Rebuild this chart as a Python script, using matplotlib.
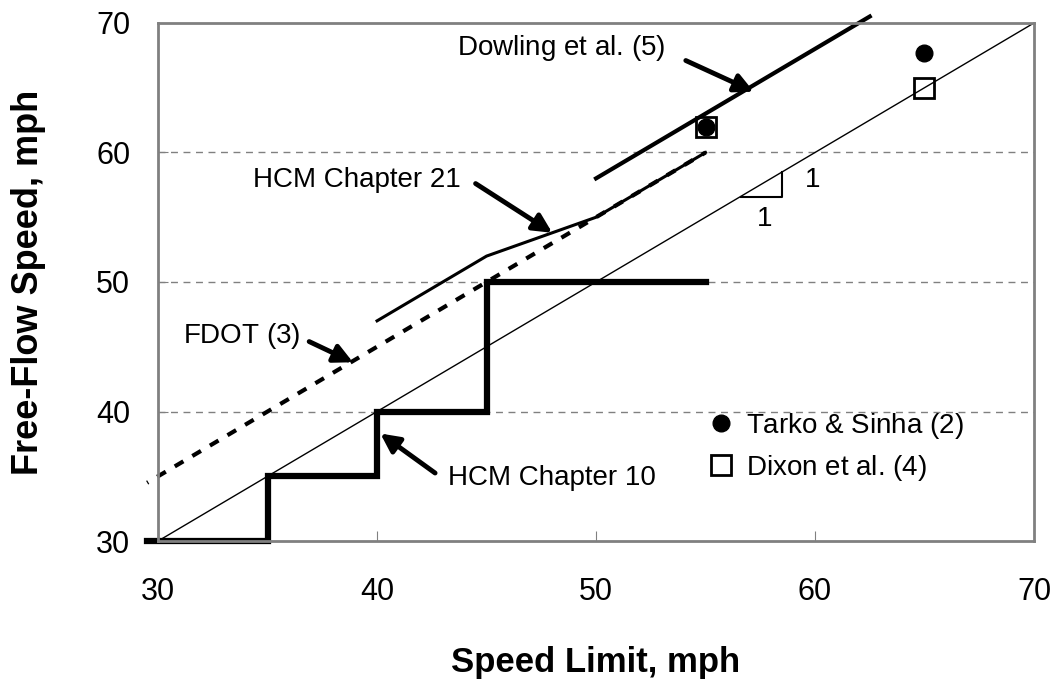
import matplotlib
matplotlib.use('Agg')
import matplotlib.pyplot as plt
from matplotlib.lines import Line2D

plt.rcParams['font.family'] = ['Liberation Sans', 'DejaVu Sans']
plt.rcParams['mathtext.fontset'] = 'custom'
plt.rcParams['mathtext.rm'] = 'Liberation Sans'
plt.rcParams['mathtext.it'] = 'Liberation Sans:italic'

# data (mph)
ref_x = [30, 70]
ref_y = [30, 70]
ch10_x = [29.5, 35, 35, 40, 40, 45, 45, 55]
ch10_y = [30, 30, 35, 35, 40, 40, 50, 50]
ch21_x = [40, 45, 50, 55]
ch21_y = [47, 52, 55, 60]
fdot_x = [29.5, 55]
fdot_y = [34.5, 60]
dowling_x = [50, 62.5]
dowling_y = [58, 70.5]
tarko_x = [55, 65]
tarko_y = [62, 67.7]
dixon_x = [55, 65]
dixon_y = [62, 65]

fig = plt.figure(figsize=(10.54, 6.8), dpi=100)
ax = fig.add_axes([0.150, 0.2044, 0.831, 0.7618])

for gy in [40, 50, 60]:
    ax.axhline(gy, color='#808080', lw=1.0, ls=(0, (5, 4)), zorder=0)

ax.plot(ref_x, ref_y, color='black', lw=1.0)
ax.plot(ch10_x, ch10_y, color='black', lw=4.5, clip_on=False, solid_joinstyle='miter')
ax.plot(fdot_x, fdot_y, color='black', lw=3, ls=(2.1, (2.4, 2.5)), clip_on=False)
ax.plot(ch21_x, ch21_y, color='black', lw=2.2)
ax.plot(dowling_x, dowling_y, color='black', lw=3, clip_on=False)
ax.plot(tarko_x, tarko_y, 'o', color='black', ms=12, zorder=4)
ax.plot(dixon_x, dixon_y, 's', mfc='none', mec='black', mew=2, ms=14, zorder=5)

# slope triangle
ax.plot([56.6, 58.5, 58.5], [56.6, 56.6, 58.5], color='black', lw=1.5)
ax.text(57.7, 54.9, '1', fontsize=20, ha='center', va='center')
ax.text(59.9, 57.9, '1', fontsize=20, ha='center', va='center')

arrow = dict(arrowstyle='-|>', color='black', lw=3.5, mutation_scale=28, shrinkA=0, shrinkB=0)
fs = 20
ax.text(48.4, 68.1, 'Dowling et al. ($\\it{5}$)', fontsize=fs, ha='center', va='center')
ax.annotate('', xy=(57.2, 64.7), xytext=(54.1, 67.1), arrowprops=arrow)
ax.text(39.1, 57.9, 'HCM Chapter 21', fontsize=fs, ha='center', va='center')
ax.annotate('', xy=(48.0, 53.8), xytext=(44.5, 57.6), arrowprops=arrow)
ax.text(33.8, 45.8, 'FDOT ($\\it{3}$)', fontsize=fs, ha='center', va='center')
ax.annotate('', xy=(38.9, 43.8), xytext=(36.9, 45.4), arrowprops=arrow)
ax.text(48.0, 34.9, 'HCM Chapter 10', fontsize=fs, ha='center', va='center')
ax.annotate('', xy=(40.15, 38.3), xytext=(42.65, 35.25), arrowprops=arrow)

handles = [Line2D([], [], ls='none', marker='o', color='black', ms=12),
           Line2D([], [], ls='none', marker='s', mfc='none', mec='black', mew=2, ms=14)]
ax.legend(handles, ['Tarko & Sinha ($\\it{2}$)', 'Dixon et al. ($\\it{4}$)'],
          loc='upper left', bbox_to_anchor=(0.59, 0.3), frameon=False,
          fontsize=fs, handletextpad=0.15, labelspacing=0.45, handlelength=1.5)

ax.set_xlim(30, 70)
ax.set_ylim(30, 70)
ax.set_xticks([30, 40, 50, 60, 70])
ax.set_yticks([30, 40, 50, 60, 70])
ax.tick_params(axis='both', direction='in', length=7, color='#808080', labelsize=22)
ax.tick_params(axis='x', pad=26)
ax.tick_params(axis='y', pad=20)
for s in ax.spines.values():
    s.set_color('#808080')
    s.set_linewidth(2)

ax.set_xlabel('Speed Limit, mph', fontsize=25, fontweight='bold', labelpad=28)
ax.set_ylabel('Free-Flow Speed, mph', fontsize=26, fontweight='bold', labelpad=36)

fig.savefig('out.png', dpi=100)
